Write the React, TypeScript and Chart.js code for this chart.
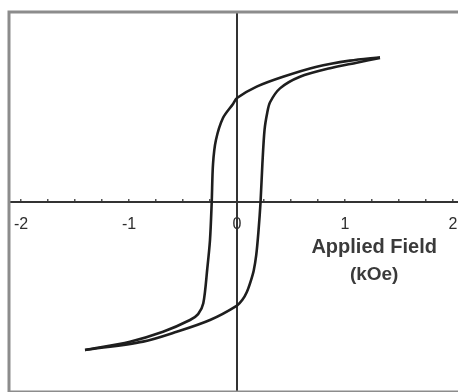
import React, { useEffect, useRef } from "react";
import { Chart, registerables } from "chart.js";

Chart.register(...registerables);

// Descending branch (from positive saturation to negative saturation)
const descendingField = [1.324, 1.046, 0.738, 0.426, 0.182, 0.0, -0.037, -0.13, -0.195, -0.222, -0.234, -0.25, -0.275, -0.312, -0.36, -0.435, -0.685, -0.991, -1.407];
const descendingMoment = [0.762, 0.744, 0.712, 0.659, 0.607, 0.547, 0.516, 0.442, 0.326, 0.2, 0.0, -0.2, -0.35, -0.533, -0.59, -0.621, -0.683, -0.735, -0.779];

// Ascending branch (from negative saturation to positive saturation)
const ascendingField = [-1.407, -0.87, -0.558, -0.25, 0.0, 0.05, 0.09, 0.125, 0.155, 0.178, 0.198, 0.218, 0.235, 0.255, 0.28, 0.306, 0.398, 0.583, 0.861, 1.108, 1.324];
const ascendingMoment = [-0.779, -0.735, -0.683, -0.621, -0.545, -0.515, -0.475, -0.42, -0.36, -0.28, -0.16, 0.0, 0.2, 0.38, 0.47, 0.525, 0.598, 0.659, 0.704, 0.733, 0.758];

const xTickValues = [-2, -1, 0, 1, 2];
const xTickLabels = ["-2", "-1", "0", "1", "2"];
const axisTitleLines = ["Applied Field", "(kOe)"];

const X_MIN = -2.111;
const X_MAX = 2.111;
const Y_MIN = -1;
const Y_MAX = 1;

const toPoints = (xs: number[], ys: number[]) => xs.map((x, i) => ({ x, y: ys[i] }));

const framePlugin = {
  id: "framePlugin",
  beforeDatasetsDraw(chart: any) {
    const { ctx, chartArea } = chart;
    const { left, right, top, bottom } = chartArea;
    ctx.save();
    ctx.strokeStyle = "#8c8c8c";
    ctx.lineWidth = 3;
    ctx.lineCap = "square";
    ctx.beginPath();
    ctx.moveTo(right, top);
    ctx.lineTo(left, top);
    ctx.lineTo(left, bottom);
    ctx.lineTo(right, bottom);
    ctx.stroke();
    ctx.restore();
  },
  afterDraw(chart: any) {
    const { ctx } = chart;
    const xs = chart.scales.x;
    const ys = chart.scales.y;
    const cx = xs.getPixelForValue(1.27);
    const base = ys.getPixelForValue(0);
    ctx.save();
    ctx.fillStyle = "#3a3a3a";
    ctx.textAlign = "center";
    ctx.textBaseline = "alphabetic";
    ctx.font = "bold 20px 'Liberation Sans', Arial, sans-serif";
    ctx.fillText(axisTitleLines[0], cx, base + 51);
    ctx.font = "bold 19px 'Liberation Sans', Arial, sans-serif";
    ctx.fillText(axisTitleLines[1], cx, base + 78);
    ctx.restore();
  },
};

export default function App() {
  const ref = useRef<HTMLCanvasElement | null>(null);

  useEffect(() => {
    if (!ref.current) return;
    const chart = new Chart(ref.current, {
      type: "scatter",
      data: {
        datasets: [
          {
            data: toPoints(descendingField, descendingMoment),
            showLine: true,
            borderColor: "#1e1e1e",
            borderWidth: 2.6,
            pointRadius: 0,
            tension: 0.3,
            fill: false,
          },
          {
            data: toPoints(ascendingField, ascendingMoment),
            showLine: true,
            borderColor: "#1e1e1e",
            borderWidth: 2.6,
            pointRadius: 0,
            tension: 0.3,
            fill: false,
          },
        ],
      },
      options: {
        responsive: false,
        animation: false,
        layout: { padding: { left: 9, top: 12, right: 15, bottom: 8 } },
        plugins: { legend: { display: false }, tooltip: { enabled: false } },
        scales: {
          x: {
            type: "linear",
            min: X_MIN,
            max: X_MAX,
            position: { y: 0 } as any,
            afterFit: (s: any) => {
              s.height = 0;
              s.paddingLeft = 0;
              s.paddingRight = 0;
              s.paddingTop = 0;
              s.paddingBottom = 0;
            },
            border: { display: true, color: "#333", width: 2 },
            grid: { display: true, drawOnChartArea: false, drawTicks: true, tickLength: -4, color: "#555", lineWidth: 1.5 },
            ticks: {
              stepSize: 0.25,
              includeBounds: false,
              autoSkip: false,
              maxRotation: 0,
              padding: 17,
              color: "#2e2e2e",
              font: { family: "'Liberation Sans', Arial, sans-serif", size: 16 },
              callback: (v: any) => {
                const i = xTickValues.indexOf(Number(v));
                return i >= 0 ? xTickLabels[i] : "";
              },
            },
          },
          y: {
            type: "linear",
            min: Y_MIN,
            max: Y_MAX,
            position: { x: 0 } as any,
            afterFit: (s: any) => {
              s.width = 0;
              s.paddingLeft = 0;
              s.paddingRight = 0;
              s.paddingTop = 0;
              s.paddingBottom = 0;
            },
            border: { display: true, color: "#333", width: 2 },
            grid: { display: false, drawTicks: false },
            ticks: { display: false },
          },
        },
      },
      plugins: [framePlugin],
    });
    return () => chart.destroy();
  }, []);

  return (
    <div style={{ position: "fixed", left: 0, top: 0, width: 458, height: 392, overflow: "hidden", background: "#fff" }}>
      <canvas ref={ref} width={480} height={400} style={{ width: 480, height: 400, display: "block" }} />
    </div>
  );
}
